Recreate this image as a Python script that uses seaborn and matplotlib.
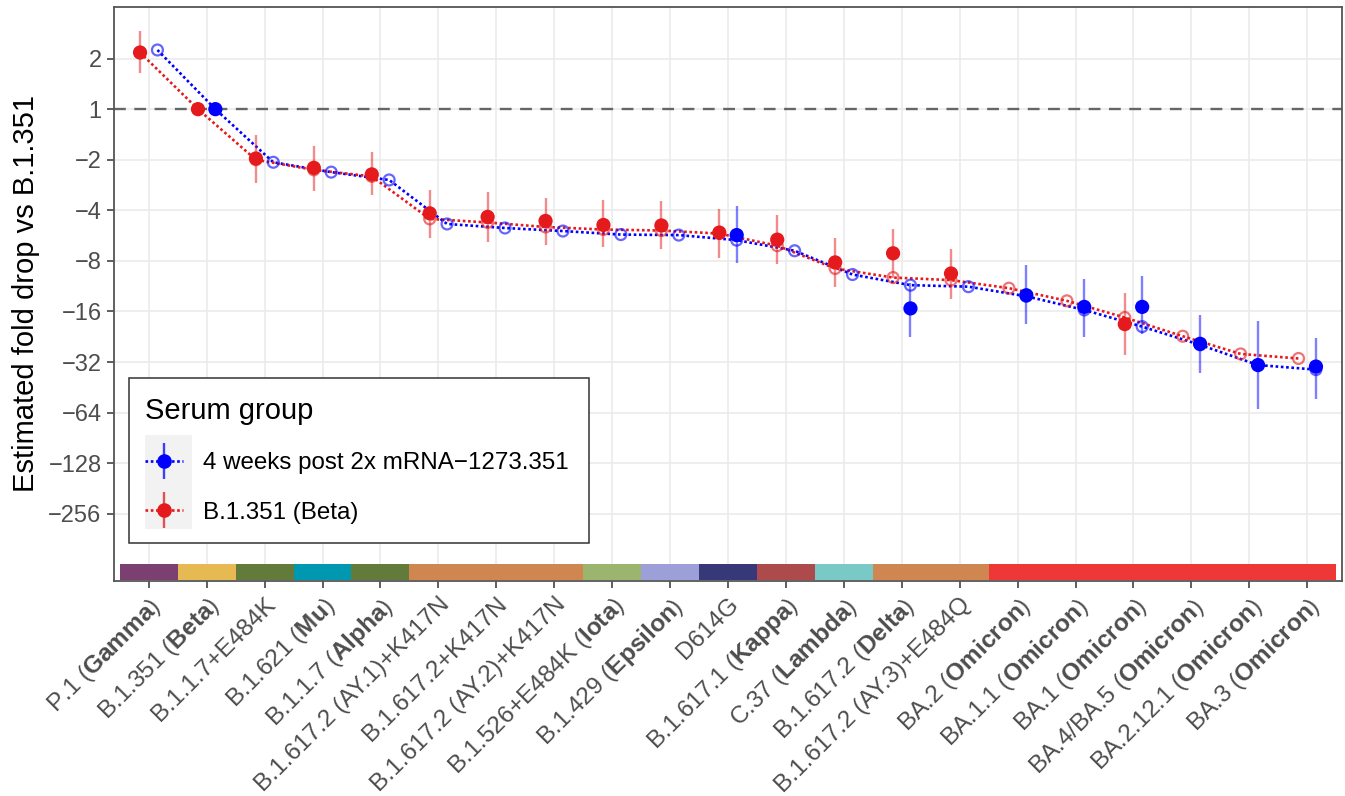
import numpy as np
import pandas as pd
import matplotlib
matplotlib.use("Agg")
import matplotlib.pyplot as plt
import seaborn as sns
from matplotlib.patches import Rectangle
from matplotlib.container import ErrorbarContainer
from matplotlib.legend_handler import HandlerErrorbar

# ---------------------------------------------------------------- data
variants = [
    "P.1", "B.1.351", "B.1.1.7+E484K", "B.1.621", "B.1.1.7",
    "B.1.617.2 (AY.1)+K417N", "B.1.617.2+K417N", "B.1.617.2 (AY.2)+K417N",
    "B.1.526+E484K", "B.1.429", "D614G", "B.1.617.1", "C.37", "B.1.617.2",
    "B.1.617.2 (AY.3)+E484Q", "BA.2", "BA.1.1", "BA.1", "BA.4/BA.5",
    "BA.2.12.1", "BA.3",
]
who_names = [
    "Gamma", "Beta", "", "Mu", "Alpha", "", "", "", "Iota", "Epsilon", "",
    "Kappa", "Lambda", "Delta", "", "Omicron", "Omicron", "Omicron",
    "Omicron", "Omicron", "Omicron",
]
lineage_colors = [
    "#7B3F72", "#E6B952", "#627A3A", "#0098B0", "#627A3A",
    "#D08650", "#D08650", "#D08650", "#9BB46E", "#9C9FD8",
    "#363877", "#AD4A4C", "#79C9C7", "#D08650", "#D08650",
    "#EE3838", "#EE3838", "#EE3838", "#EE3838", "#EE3838", "#EE3838",
]

groups = ["4 weeks post 2x mRNA\u22121273.351", "B.1.351 (Beta)"]
group_colors = ["#0000FF", "#E41A1C"]

nan = np.nan
# log2 titer ratio relative to B.1.351 (model estimates)
vacc_model = [1.17, 0.0, -1.05, -1.245, -1.40, -2.27, -2.35, -2.41, -2.48,
              -2.49, -2.59, -2.80, -3.27, -3.48, -3.51, -3.70, -3.97, -4.30,
              -4.66, -5.06, -5.15]
beta_model = [1.12, 0.0, -1.00, -1.20, -1.33, -2.17, -2.24, -2.33, -2.38,
              -2.40, -2.46, -2.70, -3.15, -3.33, -3.38, -3.54, -3.79, -4.12,
              -4.49, -4.84, -4.93]

# observed means with 95% intervals (log2)
vacc_obs = [nan, 0.0, nan, nan, nan, nan, nan, nan, nan, nan, -2.49, nan,
            nan, -3.94, nan, -3.68, -3.91, -3.91, -4.64, -5.06, -5.09]
vacc_lo = [nan, nan, nan, nan, nan, nan, nan, nan, nan, nan, -3.05, nan,
           nan, -4.51, nan, -4.24, -4.51, -4.45, -5.21, -5.92, -5.73]
vacc_hi = [nan, nan, nan, nan, nan, nan, nan, nan, nan, nan, -1.92, nan,
           nan, -3.44, nan, -3.08, -3.36, -3.29, -4.07, -4.19, -4.53]

beta_obs = [1.12, 0.0, -0.975, -1.16, -1.29, -2.06, -2.13, -2.21, -2.29,
            -2.30, -2.44, -2.58, -3.03, -2.85, -3.25, nan, nan, -4.25, nan,
            nan, nan]
beta_lo = [0.71, nan, -1.46, -1.61, -1.70, -2.54, -2.62, -2.69, -2.72,
           -2.77, -2.94, -3.06, -3.51, -3.33, -3.76, nan, nan, -4.86, nan,
           nan, nan]
beta_hi = [1.54, nan, -0.51, -0.73, -0.84, -1.60, -1.63, -1.75, -1.80,
           -1.82, -1.98, -2.10, -2.54, -2.36, -2.77, nan, nan, -3.63, nan,
           nan, nan]

y_breaks = [1, 0, -1, -2, -3, -4, -5, -6, -7, -8]
y_labels = ["2", "1", "\u22122", "\u22124", "\u22128", "\u221216", "\u221232",
            "\u221264", "\u2212128", "\u2212256"]

# ---------------------------------------------------------------- frame
n = len(variants)
dodge = {groups[0]: 0.15, groups[1]: -0.15}
frames = []
for g, m, o, lo, hi in [(groups[0], vacc_model, vacc_obs, vacc_lo, vacc_hi),
                        (groups[1], beta_model, beta_obs, beta_lo, beta_hi)]:
    frames.append(pd.DataFrame({
        "variant": variants, "idx": np.arange(n), "group": g,
        "model": m, "obs": o, "lo": lo, "hi": hi,
    }))
df = pd.concat(frames, ignore_index=True)
df["xpos"] = df["idx"] + df["group"].map(dodge)
palette = dict(zip(groups, group_colors))

# ---------------------------------------------------------------- style
sns.set_theme(style="whitegrid")
plt.rcParams.update({
    "font.family": ["Liberation Sans", "DejaVu Sans"],
    "mathtext.fontset": "custom",
    "mathtext.rm": "Liberation Sans",
    "mathtext.it": "Liberation Sans:italic",
    "mathtext.bf": "Liberation Sans:bold",
    "axes.unicode_minus": True,
    "text.color": "black",
})

W, H = 1345, 796
fig = plt.figure(figsize=(W / 100, H / 100), dpi=100)
ax = fig.add_axes([114 / W, 1 - 581 / H, 1228 / W, 574 / H])
ax.set_facecolor("white")
ax.set_axisbelow(True)

# dashed reference at no change
ax.axhline(0, color="#666666", lw=1.7, dashes=(5, 3.6), zorder=1.5)

# model trajectories
sns.lineplot(data=df, x="xpos", y="model", hue="group", palette=palette,
             hue_order=groups, sort=False, estimator=None, units="group",
             linewidth=1.9, linestyle=(0, (1, 1)), legend=False, ax=ax,
             zorder=2)

# model estimates (open circles)
for g in groups:
    sub = df[df["group"] == g]
    ax.scatter(sub["xpos"], sub["model"], s=62, facecolors="none",
               edgecolors=palette[g], linewidths=1.6, alpha=0.6, zorder=3)

# observed intervals
for g in groups:
    sub = df[(df["group"] == g) & df["lo"].notna()]
    ax.vlines(sub["xpos"], sub["lo"], sub["hi"], colors=palette[g],
              linewidth=1.7, alpha=0.5, zorder=3.5)

# observed means
sns.scatterplot(data=df.dropna(subset=["obs"]), x="xpos", y="obs",
                hue="group", palette=palette, hue_order=groups, s=105,
                linewidth=0, legend=False, ax=ax, zorder=4)

# lineage colour strip along the bottom
ax.bar(np.arange(n), height=0.31, bottom=-9.31, width=1.0,
       color=lineage_colors, linewidth=0, zorder=2.5)

# ---------------------------------------------------------------- axes
ax.set_xlim(-0.6, n - 0.4)
ax.set_ylim(-9.33, 2.02)
tick_text = [f"{v} ($\\mathbf{{{w}}}$)" if w else v
             for v, w in zip(variants, who_names)]
ax.set_xticks(np.arange(n))
ax.set_xticklabels(tick_text, rotation=45, ha="right", va="top",
                   rotation_mode="anchor")
ax.set_yticks(y_breaks)
ax.set_yticklabels(y_labels)
ax.tick_params(axis="both", which="major", length=5, width=1.1,
               color="#333333", labelsize=17, labelcolor="#4D4D4D", pad=4,
               bottom=True, left=True)
ax.tick_params(axis="x", labelsize=17.6)
ax.grid(True, color="#EBEBEB", linewidth=1.2)
for sp in ax.spines.values():
    sp.set_color("#555555")
    sp.set_linewidth(1.3)
ax.set_xlabel("")
ax.set_ylabel("Estimated fold drop vs B.1.351", fontsize=21, color="black",
              labelpad=6)

# ---------------------------------------------------------------- legend
ax.add_patch(Rectangle((0.0126, 0.0662), 0.3742, 0.2875,
                       transform=ax.transAxes, facecolor="white",
                       edgecolor="#333333", linewidth=1.1, zorder=6))
ax.add_patch(Rectangle((0.0255, 0.0906), 0.0378, 0.1638,
                       transform=ax.transAxes, facecolor="#F2F2F2",
                       edgecolor="none", zorder=6.1))

handles = []
for g in groups:
    h = ax.errorbar([], [], yerr=[], fmt="o", linestyle=(0, (1, 1)),
                    color=palette[g], ecolor=palette[g], elinewidth=1.7,
                    markersize=9.5, linewidth=1.9, label=g)
    h[2][0].set_alpha(0.75)
    handles.append(h)

leg = ax.legend(handles=handles, labels=groups, title="Serum group",
                loc="upper left", bbox_to_anchor=(0.0255, 0.3206),
                frameon=False, fontsize=17.4, title_fontsize=21,
                alignment="left", borderpad=0, borderaxespad=0,
                handlelength=1.55, handletextpad=0.85, labelspacing=1.13,
                handler_map={ErrorbarContainer: HandlerErrorbar(xerr_size=0.75)})
for t in leg.get_texts():
    t.set_color("black")
leg.get_title().set_color("black")
leg.set_zorder(7)

fig.savefig("out.png", dpi=100)
